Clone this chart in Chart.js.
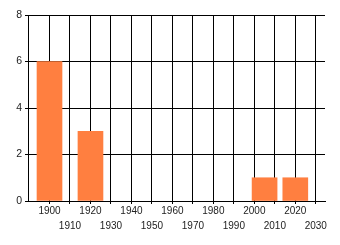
<!DOCTYPE html>
<html><head><meta charset="utf-8">
<script src="https://cdn.jsdelivr.net/npm/chart.js@4/dist/chart.umd.min.js"></script>
<style>html,body{margin:0;padding:0;background:#fff}#wrap{width:340px;height:245px}</style>
</head><body><div id="wrap"><canvas id="c" width="340" height="245"></canvas></div>
<script>
const years = [1900, 1920, 2005, 2020];
const counts = [6, 3, 1, 1];
const xTicks = [1900,1910,1920,1930,1940,1950,1960,1970,1980,1990,2000,2010,2020,2030];
const yTicks = [0,2,4,6,8];

const font = {family: '"Liberation Sans", Arial, sans-serif', size: 10, lineHeight: 1.5};
new Chart(document.getElementById('c'), {
  type: 'bar',
  data: { datasets: [{ data: years.map((y,i)=>({x:y, y:counts[i]})), backgroundColor: 'rgb(255,127,64)', barThickness: 25, borderWidth: 0 }] },
  options: {
    responsive: false, animation: false, devicePixelRatio: 1,
    layout: { padding: { left: 0, right: 15, top: 15, bottom: 0 } },
    plugins: { legend: { display: false }, tooltip: { enabled: false } },
    scales: {
      x: {
        type: 'linear', min: 1889.5, max: 2034.5, offset: false,
        afterBuildTicks: s => { s.ticks = xTicks.map(v => ({value: v})); },
        afterFit: s => { s.height = 44; },
        grid: { color: '#000', lineWidth: 1, tickLength: 3, offset: false },
        border: { color: '#000', width: 1 },
        ticks: { autoSkip: false, maxRotation: 0, minRotation: 0, color: '#222', font: font, padding: 0,
          callback: (v) => { const i = xTicks.indexOf(v); return i % 2 === 0 ? String(v) : ['', String(v)]; } }
      },
      y: {
        min: 0, max: 8,
        afterBuildTicks: s => { s.ticks = yTicks.map(v => ({value: v})); },
        afterFit: s => { s.width = 28; },
        grid: { color: '#000', lineWidth: 1, tickLength: 3 },
        border: { color: '#000', width: 1 },
        ticks: { color: '#222', font: {family: font.family, size: 10.5}, padding: 3 }
      }
    }
  }
});
</script></body></html>
